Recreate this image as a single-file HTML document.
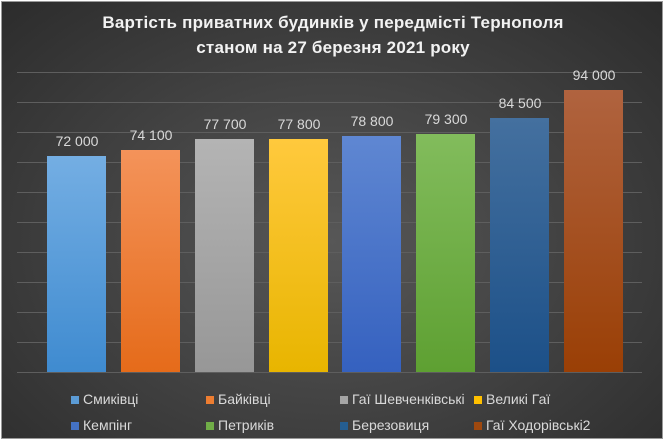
<!DOCTYPE html>
<html><head><meta charset="utf-8"><style>
html,body{margin:0;padding:0;}
body{width:665px;height:441px;overflow:hidden;background:#fff;}
#c{position:absolute;left:1px;top:1px;width:662px;height:438px;border:1px solid #999;box-sizing:border-box;
background:radial-gradient(ellipse at 50% 55%,#575757 0%,#444 45%,#2c2c2c 100%);overflow:hidden;
font-family:"Liberation Sans Narrow","Liberation Sans",sans-serif;}
.t{position:absolute;left:0;width:662px;text-align:center;color:#f2f2f2;font-weight:bold;font-size:17px;font-family:"Liberation Sans",sans-serif;letter-spacing:0.2px}
.g{position:absolute;left:15px;width:625px;height:1px;background:#5e5e5e}
.b{position:absolute;width:59px}
.v{position:absolute;width:80px;text-align:center;color:#d9d9d9;font-size:14px}
.l{position:absolute;color:#d9d9d9;font-size:14px;white-space:nowrap}
.l i{display:inline-block;width:8px;height:8px;margin-right:4px;vertical-align:0px}
</style></head><body><div id="c">
<div class="t" style="top:11px">Вартість приватних будинків у передмісті Тернополя</div>
<div class="t" style="top:36px">станом на 27 березня 2021 року</div>
<div class="g" style="top:70px"></div><div class="g" style="top:100px"></div><div class="g" style="top:130px"></div>
<div class="g" style="top:160px"></div><div class="g" style="top:190px"></div><div class="g" style="top:220px"></div>
<div class="g" style="top:250px"></div><div class="g" style="top:280px"></div><div class="g" style="top:310px"></div>
<div class="g" style="top:340px"></div><div class="g" style="top:370px"></div>

<div class="b" style="left:45px;top:154px;height:216px;background:linear-gradient(#74aee3,#3f8bd0)"></div>
<div class="b" style="left:119px;top:148px;height:222px;background:linear-gradient(#f4935a,#e56b1a)"></div>
<div class="b" style="left:193px;top:137px;height:233px;background:linear-gradient(#b4b4b4,#979797)"></div>
<div class="b" style="left:267px;top:137px;height:233px;background:linear-gradient(#ffc93d,#e8b500)"></div>
<div class="b" style="left:340px;top:134px;height:236px;background:linear-gradient(#5f87d2,#3561bf)"></div>
<div class="b" style="left:414px;top:132px;height:238px;background:linear-gradient(#82bc5c,#5ea032)"></div>
<div class="b" style="left:488px;top:116px;height:254px;background:linear-gradient(#44709f,#1c5088)"></div>
<div class="b" style="left:562px;top:88px;height:282px;background:linear-gradient(#b0633f,#9a3f05)"></div>

<div class="v" style="left:35px;top:131px">72 000</div>
<div class="v" style="left:109px;top:125px">74 100</div>
<div class="v" style="left:183px;top:114px">77 700</div>
<div class="v" style="left:257px;top:114px">77 800</div>
<div class="v" style="left:330px;top:111px">78 800</div>
<div class="v" style="left:404px;top:109px">79 300</div>
<div class="v" style="left:478px;top:93px">84 500</div>
<div class="v" style="left:552px;top:65px">94 000</div>

<div class="l" style="left:69px;top:389px"><i style="background:#5b9bd5"></i>Смиківці</div>
<div class="l" style="left:204px;top:389px"><i style="background:#ed7d31"></i>Байківці</div>
<div class="l" style="left:338px;top:389px"><i style="background:#a5a5a5"></i>Гаї Шевченківські</div>
<div class="l" style="left:472px;top:389px"><i style="background:#ffc000"></i>Великі Гаї</div>
<div class="l" style="left:69px;top:415px"><i style="background:#4472c4"></i>Кемпінг</div>
<div class="l" style="left:204px;top:415px"><i style="background:#70ad47"></i>Петриків</div>
<div class="l" style="left:338px;top:415px"><i style="background:#255e91"></i>Березовиця</div>
<div class="l" style="left:472px;top:415px"><i style="background:#9e480e"></i>Гаї Ходорівські2</div>
</div></body></html>
